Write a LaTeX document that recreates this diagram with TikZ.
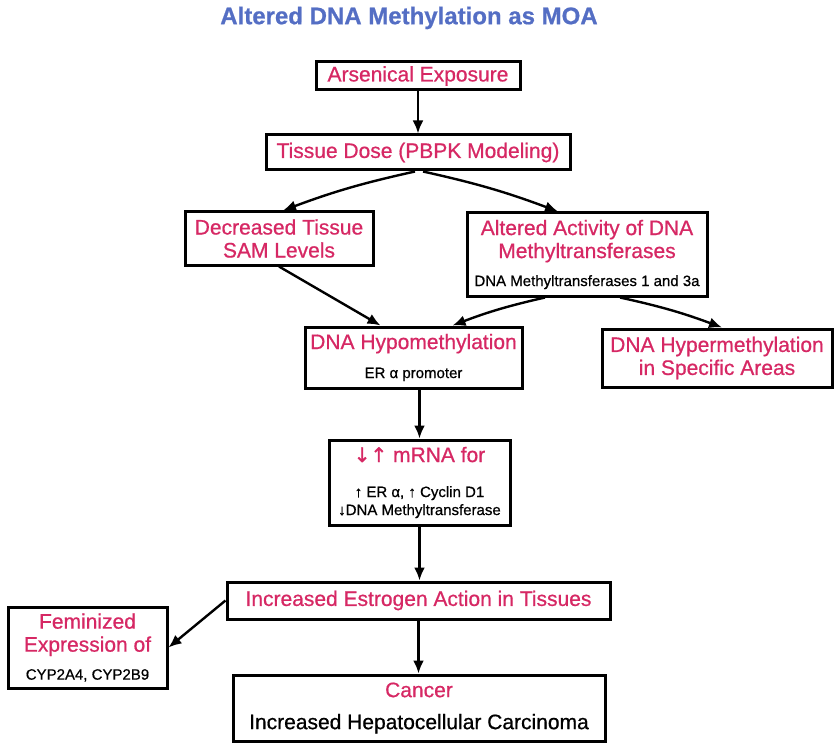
\documentclass[tikz,border=0pt]{standalone}
\usepackage{fontspec}
\setmainfont{Liberation Sans}[FakeBold=0.7]
\newfontfamily\arrowfont{DejaVu Sans}[FakeBold=1.5]
\usetikzlibrary{arrows.meta}
\definecolor{moared}{RGB}{214,40,100}
\definecolor{moablue}{RGB}{84,110,196}
\newcommand{\redfont}{\fontsize{21}{23}\selectfont}
\newcommand{\subtext}[1]{{\fontsize{15}{17}\selectfont\color{black}#1}}

\begin{document}
\begin{tikzpicture}[x=1pt, y=-1pt,
    box/.style={draw, line width=3pt, inner sep=0pt, align=center, text=moared, font=\redfont},
    flow/.style={-{Latex[length=13pt,width=11pt]}, line width=2.4pt}]
    \useasboundingbox (0,0) rectangle (834,743);

    % Titel
    \node[font=\fontsize{24}{28}\selectfont\bfseries, text=moablue] (title) at (409,18) {Altered DNA Methylation as MOA};

    % Kaestchen
    \node[box, minimum width=204pt, minimum height=28pt] (expo) at (418,76) {Arsenical Exposure};
    \node[box, minimum width=304pt, minimum height=35pt] (dose) at (418,152.5) {Tissue Dose (PBPK Modeling)};
    \node[box, minimum width=188pt, minimum height=53pt] (sam) at (279,238.5) {Decreased Tissue\\SAM Levels};
    \node[box, minimum width=240pt, minimum height=83pt] (dnmt) at (587,254.5)
        {Altered Activity of DNA\\Methyltransferases\\[5pt]\subtext{DNA Methyltransferases 1 and 3a}};
    \node[box, minimum width=217pt, minimum height=61pt] (hypo) at (413.5,357.5)
        {DNA Hypomethylation\\[6pt]\subtext{ER α promoter}};
    \node[box, minimum width=230pt, minimum height=58pt] (hyper) at (717,358) {DNA Hypermethylation\\in Specific Areas};
    \node[box, minimum width=181pt, minimum height=85pt] (mrna) at (419.5,482.5)
        {{\arrowfont\fontsize{20}{23}\selectfont ↓↑} mRNA for\\[12pt]\subtext{↑ ER α, ↑ Cyclin D1}\\[-5pt]\subtext{↓DNA Methyltransferase}};
    \node[box, minimum width=383pt, minimum height=37pt] (estro) at (418.5,600.5) {Increased Estrogen Action in Tissues};
    \node[box, minimum width=159pt, minimum height=81pt] (femin) at (87.5,647.5)
        {Feminized\\Expression of\\[5pt]\subtext{CYP2A4, CYP2B9}};
    \node[box, minimum width=372pt, minimum height=66pt] (cancer) at (419,708)
        {Cancer\\[9pt]{\color{black}Increased Hepatocellular Carcinoma}};

    % Pfeile
    \draw[flow] (expo) -- (dose);
    \draw[flow] ([xshift=-3pt]dose.south) to[bend right=4] ([xshift=4pt]sam.north);
    \draw[flow] ([xshift=5pt]dose.south) to[bend left=4] ([xshift=-29pt]dnmt.north);
    \draw[flow] (sam.south) -- ([xshift=-33pt]hypo.north);
    \draw[flow] ([xshift=-42pt]dnmt.south) to[bend right=4] ([xshift=39pt]hypo.north);
    \draw[flow] ([xshift=33pt]dnmt.south) to[bend left=4] ([xshift=5pt]hyper.north);
    \draw[flow] (mrna.north |- hypo.south) -- (mrna.north);
    \draw[flow] (mrna.south) -- (mrna.south |- estro.north);
    \draw[flow] (estro.south) -- (estro.south |- cancer.north);
    \draw[flow] (estro.west) -- (femin.east);
\end{tikzpicture}
\end{document}
